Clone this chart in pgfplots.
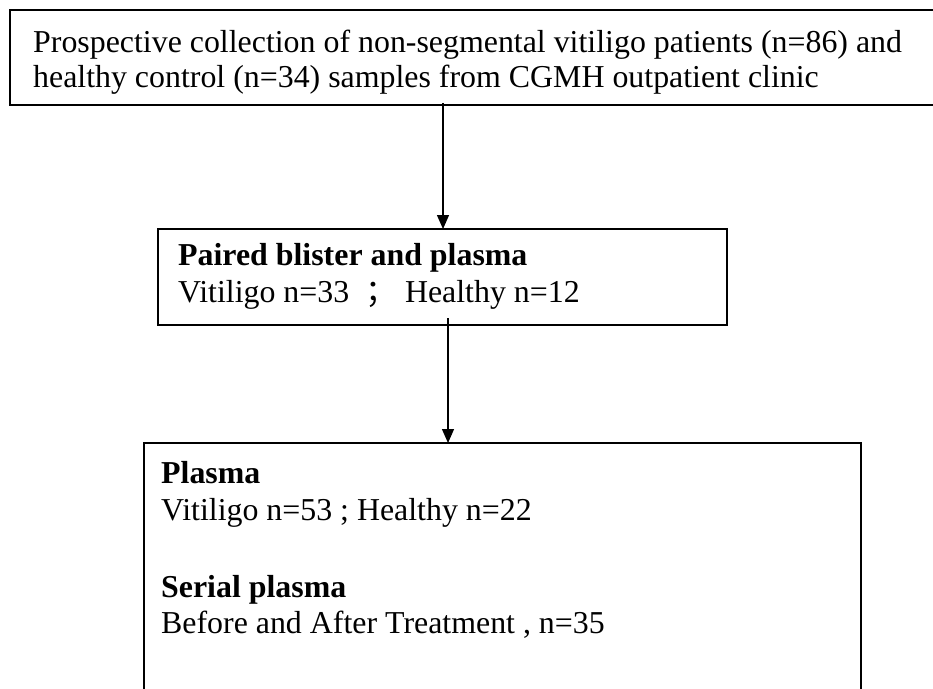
\documentclass[border=0pt]{standalone}
\usepackage{pgfplots}
\pgfplotsset{compat=1.18}
\usepackage{fontspec}
\setmainfont{Liberation Serif}
\newfontfamily\cjk{Noto Sans CJK SC}
\usetikzlibrary{arrows.meta}
\begin{document}
\begin{tikzpicture}
\begin{axis}[width=933bp,height=689bp,scale only axis,
  xmin=0,xmax=933,ymin=0,ymax=689,y dir=reverse,hide axis,clip=false]
% boxes
\addplot[black,line width=2bp] coordinates {(10,10)(936,10)(936,105)(10,105)} -- cycle;
\addplot[black,line width=2bp] coordinates {(158,229)(727,229)(727,325)(158,325)} -- cycle;
\addplot[black,line width=2bp] coordinates {(144,692)(144,443)(861,443)(861,692)};
% arrows
\addplot[black,line width=1.3bp,-{Triangle[width=12bp,length=14bp]}] coordinates {(443,103)(443,229)};
\addplot[black,line width=1.3bp,-{Triangle[width=12bp,length=14bp]}] coordinates {(448,318)(448,443)};
% texts
\node[anchor=base west,inner sep=0pt] at (axis cs:33,53) {\fontsize{32}{35}\selectfont Prospective collection of non-segmental vitiligo patients (n=86) and};
\node[anchor=base west,inner sep=0pt] at (axis cs:33,88) {\fontsize{32}{35}\selectfont healthy control (n=34) samples from CGMH outpatient clinic};
\node[anchor=base west,inner sep=0pt] at (axis cs:178,265) {\fontsize{32}{35}\selectfont\bfseries Paired blister and plasma};
\node[anchor=base west,inner sep=0pt] at (axis cs:178,302) {\fontsize{32}{35}\selectfont Vitiligo n=33 \ {\cjk ；} Healthy n=12};
\node[anchor=base west,inner sep=0pt] at (axis cs:161,483) {\fontsize{32}{35}\selectfont\bfseries Plasma};
\node[anchor=base west,inner sep=0pt] at (axis cs:161,520) {\fontsize{32}{35}\selectfont Vitiligo n=53 ; Healthy n=22};
\node[anchor=base west,inner sep=0pt] at (axis cs:161,597) {\fontsize{32}{35}\selectfont\bfseries Serial plasma};
\node[anchor=base west,inner sep=0pt] at (axis cs:161,633) {\fontsize{32}{35}\selectfont Before and After Treatment , n=35};
\end{axis}
\pgfresetboundingbox
\useasboundingbox (current axis.south west) rectangle (current axis.north east);
\end{tikzpicture}
\end{document}
